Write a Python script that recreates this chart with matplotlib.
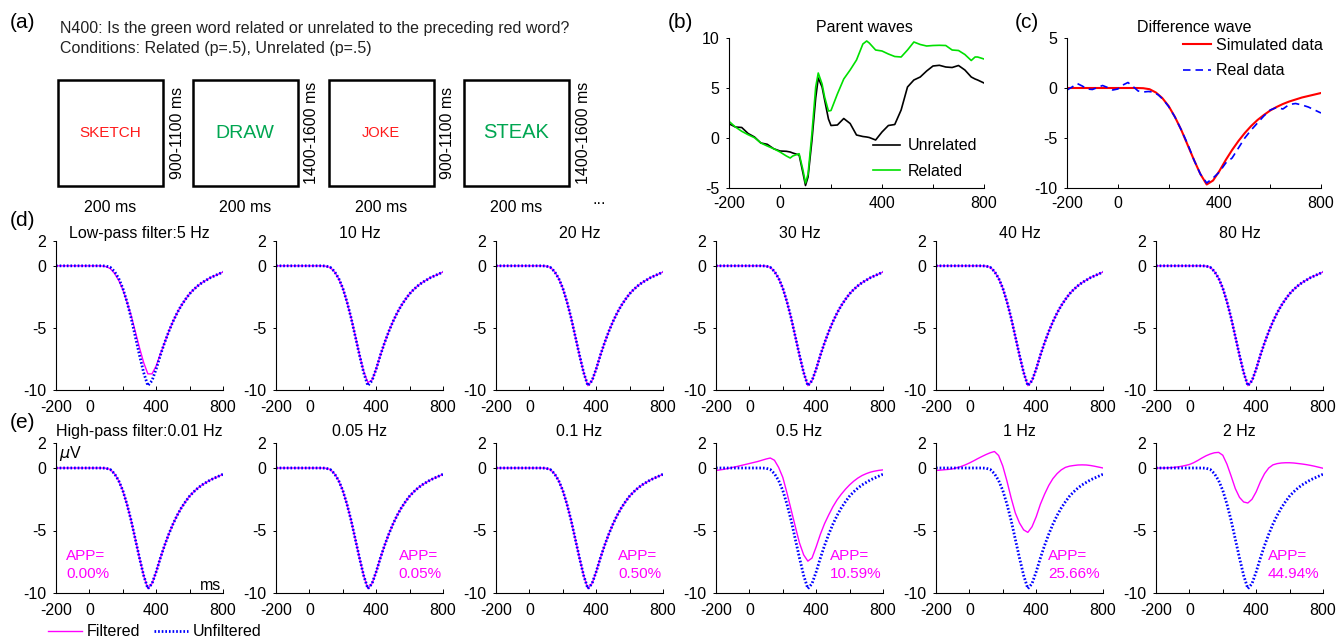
import matplotlib
matplotlib.use("Agg")
import matplotlib.pyplot as plt
from matplotlib.patches import Rectangle

plt.rcParams['font.family'] = ['Liberation Sans', 'DejaVu Sans']
plt.rcParams['axes.unicode_minus'] = False

W, H = 1337, 640

# ---- data ----
t = list(range(-200, 801, 25))

unfiltered = [0, 0, 0, 0, 0, 0, 0, 0, 0, 0, 0, 0,
              -0.02, -0.12, -0.45, -1.0, -1.8, -2.9, -4.2, -5.7, -7.2, -8.6,
              -9.65, -9.25, -8.3, -7.2, -6.2, -5.3, -4.5, -3.8, -3.2, -2.7,
              -2.25, -1.9, -1.6, -1.35, -1.15, -0.95, -0.8, -0.65, -0.5]

lp_5hz = [0, 0, 0, 0, 0, 0, 0, 0, 0, 0, 0, -0.01,
          -0.06, -0.22, -0.6, -1.15, -1.9, -2.9, -4.0, -5.3, -6.6, -7.8,
          -8.7, -8.7, -8.05, -7.1, -6.2, -5.3, -4.5, -3.8, -3.2, -2.7,
          -2.25, -1.9, -1.6, -1.35, -1.15, -0.95, -0.8, -0.65, -0.5]

lp_10hz = [0, 0, 0, 0, 0, 0, 0, 0, 0, 0, 0, 0,
           -0.03, -0.14, -0.47, -1.02, -1.8, -2.9, -4.2, -5.65, -7.15, -8.5,
           -9.4, -9.2, -8.3, -7.2, -6.2, -5.3, -4.5, -3.8, -3.2, -2.7,
           -2.25, -1.9, -1.6, -1.35, -1.15, -0.95, -0.8, -0.65, -0.5]

hp_05hz = [-0.2, -0.15, -0.1, -0.03, 0.05, 0.12, 0.2, 0.28, 0.36, 0.44, 0.52, 0.62,
           0.72, 0.8, 0.62, 0.05, -0.75, -2.0, -3.35, -4.7, -6.0, -6.95,
           -7.45, -7.2, -6.3, -5.3, -4.45, -3.75, -3.1, -2.55, -2.1, -1.7,
           -1.35, -1.05, -0.8, -0.6, -0.45, -0.33, -0.25, -0.19, -0.15]

hp_1hz = [-0.2, -0.17, -0.14, -0.11, -0.07, 0.02, 0.12, 0.25, 0.4, 0.57, 0.75, 0.92,
          1.08, 1.22, 1.32, 1.0, 0.15, -1.05, -2.4, -3.6, -4.4, -4.95,
          -5.15, -4.7, -3.9, -2.9, -2.1, -1.4, -0.85, -0.45, -0.15, 0.05,
          0.15, 0.2, 0.24, 0.25, 0.24, 0.2, 0.14, 0.07, 0.0]

hp_2hz = [0.0, 0.0, 0.0, 0.02, 0.04, 0.08, 0.13, 0.2, 0.28, 0.42, 0.6, 0.8,
          0.98, 1.12, 1.22, 1.25, 1.02, 0.3, -0.65, -1.65, -2.35, -2.72,
          -2.8, -2.5, -1.9, -1.1, -0.45, 0.0, 0.25, 0.35, 0.4, 0.42,
          0.42, 0.4, 0.36, 0.32, 0.27, 0.21, 0.14, 0.06, -0.02]

lowpass_titles = ['Low-pass filter:5 Hz', '10 Hz', '20 Hz', '30 Hz', '40 Hz', '80 Hz']
lowpass_curves = [lp_5hz, lp_10hz, unfiltered, unfiltered, unfiltered, unfiltered]

highpass_titles = ['High-pass filter:0.01 Hz', '0.05 Hz', '0.1 Hz', '0.5 Hz', '1 Hz', '2 Hz']
highpass_curves = [unfiltered, unfiltered, unfiltered, hp_05hz, hp_1hz, hp_2hz]
app_values = ['0.00%', '0.05%', '0.50%', '10.59%', '25.66%', '44.94%']
app_xpos = [-140, 535, 530, 483, 470, 470]

# parent waves (b)
t_parent = [-200, -175, -150, -125, -100, -75, -50, -25, 0, 25, 40, 50, 75, 90, 100,
            110, 125, 140, 150, 165, 175, 190, 200, 225, 250, 275, 300, 325, 340, 350,
            375, 400, 425, 450, 475, 500, 525, 550, 575, 600, 625, 650, 675, 700, 725,
            750, 765, 775, 800]
unrelated = [1.43, 1.1, 1.05, 0.45, 0.1, -0.5, -0.63, -1.07, -1.3, -1.33, -1.4, -1.5, -1.7, -3.5, -4.75,
             -3.9, -0.3, 4.0, 6.0, 5.1, 3.8, 1.9, 1.25, 1.3, 1.95, 1.45, 0.3, 0.15, 0.1, 0.05,
             -0.2, 0.6, 1.25, 1.35, 2.8, 5.1, 5.8, 6.1, 6.7, 7.2, 7.27, 7.1, 7.05, 7.25, 6.8,
             6.1, 5.9, 5.8, 5.5]
related = [1.67, 1.1, 0.67, 0.33, 0.03, -0.5, -0.8, -1.07, -1.4, -1.8, -2.0, -1.8, -1.57, -3.2, -4.5,
           -3.6, 0.4, 5.1, 6.5, 5.4, 4.1, 2.7, 2.75, 4.4, 5.9, 6.8, 7.8, 9.4, 9.7, 9.5,
           8.8, 8.7, 8.4, 8.15, 8.1, 8.8, 9.6, 9.35, 9.2, 9.25, 9.27, 9.25, 8.8, 8.75, 8.35,
           7.75, 8.1, 8.1, 7.9]

# difference wave (c)
t_real = [-200, -180, -160, -140, -120, -100, -80, -60, -40, -20, 0, 20, 40, 60, 80,
          100, 120, 140, 160, 180, 200, 225, 250, 275, 300, 325, 350, 375, 400, 425,
          450, 475, 500, 525, 550, 575, 600, 625, 650, 675, 700, 725, 750, 775, 800]
real_data = [-0.2, 0.1, 0.45, 0.2, -0.1, -0.15, 0.05, 0.25, 0.05, -0.2, -0.1, 0.3, 0.55, 0.15, -0.3,
             -0.4, -0.35, -0.4, -0.7, -1.2, -1.85, -2.9, -4.2, -5.6, -7.2, -8.6, -9.5, -9.0, -8.4, -7.5,
             -7.0, -6.0, -5.0, -4.2, -3.5, -2.8, -2.2, -1.95, -2.1, -1.65, -1.55, -1.7, -1.9, -2.2, -2.5]

MAGENTA = '#ff00ff'
BLUE = '#0000ff'
FS = 11.5

fig = plt.figure(figsize=(W / 100, H / 100), dpi=100)


def add_ax(left, top, right, bottom):
    return fig.add_axes([left / W, 1 - bottom / H, (right - left) / W, (bottom - top) / H])


def style(ax, ylim, yticks, xpad=7):
    ax.set_xlim(-200, 800)
    ax.set_ylim(*ylim)
    for s in ('top', 'right'):
        ax.spines[s].set_visible(False)
    for s in ('left', 'bottom'):
        ax.spines[s].set_linewidth(0.8)
    ax.set_xticks([-200, 0, 200, 400, 600, 800])
    ax.set_xticklabels(['-200', '0', '', '400', '', '800'])
    ax.set_yticks(yticks)
    ax.set_yticklabels([str(v) for v in yticks])
    ax.tick_params(axis='x', direction='in', length=3, width=0.7, pad=xpad, labelsize=FS)
    ax.tick_params(axis='y', direction='out', length=2, width=0.7, pad=5, labelsize=FS)
    ax.patch.set_alpha(0)


# ---- overlay for panel (a) and panel letters ----
ov = fig.add_axes([0, 0, 1, 1])
ov.set_xlim(0, W)
ov.set_ylim(H, 0)
ov.axis('off')

for lab, x, y in [('(a)', 10, 22), ('(b)', 668, 22), ('(c)', 1015, 22),
                  ('(d)', 10, 221), ('(e)', 10, 423)]:
    ov.text(x, y, lab, fontsize=15, va='center', ha='left')

ov.text(60, 28, 'N400: Is the green word related or unrelated to the preceding red word?',
        fontsize=FS, va='center', color='#222222')
ov.text(60, 48, 'Conditions: Related (p=.5), Unrelated (p=.5)',
        fontsize=FS, va='center', color='#222222')

box_lefts = [58, 193, 329, 464]
box_words = ['SKETCH', 'DRAW', 'JOKE', 'STEAK']
word_colors = ['#ff1a1a', '#00a651', '#ff1a1a', '#00a651']
word_sizes = [11, 14, 10.5, 14.5]
isi_labels = ['900-1100 ms', '1400-1600 ms', '900-1100 ms', '1400-1600 ms']
for i, bx in enumerate(box_lefts):
    ov.add_patch(Rectangle((bx, 80), 105, 106, fill=False, lw=1.8, ec='black'))
    ov.text(bx + 52, 133, box_words[i], color=word_colors[i], fontsize=word_sizes[i],
            ha='center', va='center')
    ov.text(bx + 119, 133, isi_labels[i], rotation=90, fontsize=FS, ha='center', va='center')
    ov.text(bx + 52, 208, '200 ms', fontsize=FS, ha='center', va='center')
ov.text(592, 200, '...', fontsize=FS, ha='left', va='center')

# ---- panel (b) ----
axb = add_ax(729, 38, 984, 188)
axb.plot(t_parent, unrelated, color='black', lw=1.2, label='Unrelated')
axb.plot(t_parent, related, color='#00e000', lw=1.2, label='Related')
style(axb, (-5, 10), [-5, 0, 5, 10], xpad=6)
axb.set_title('Parent waves', fontsize=FS, pad=4, x=0.53)
axb.legend(loc='upper left', bbox_to_anchor=(0.565, 0.33), frameon=False, fontsize=FS,
           handlelength=1.7, handletextpad=0.5, labelspacing=0.65, borderpad=0, borderaxespad=0)

# ---- panel (c) ----
axc = add_ax(1067, 38, 1321, 188)
axc.plot(t, unfiltered, color='#ff0000', lw=1.5, label='Simulated data')
axc.plot(t_real, real_data, color=BLUE, lw=1.2, dashes=(4.5, 3), label='Real data')
style(axc, (-10, 5), [-10, -5, 0, 5], xpad=6)
axc.set_title('Difference wave', fontsize=FS, pad=4)
axc.legend(loc='upper left', bbox_to_anchor=(0.455, 1.0), frameon=False, fontsize=FS,
           handlelength=1.8, handletextpad=0.3, labelspacing=0.65, borderpad=0, borderaxespad=0)

# ---- rows (d) and (e) ----
handles = None
for i in range(6):
    left = 56 + 220 * i
    axd = add_ax(left, 241, left + 167, 390)
    axd.plot(t, lowpass_curves[i], color=MAGENTA, lw=1.0)
    axd.plot(t, unfiltered, color=BLUE, lw=2.0, dashes=(0.6, 0.7))
    style(axd, (-10, 2), [-10, -5, 0, 2])
    axd.set_title(lowpass_titles[i], fontsize=FS, pad=2)

    axe = add_ax(left, 443, left + 167, 593)
    l1, = axe.plot(t, highpass_curves[i], color=MAGENTA, lw=1.0, label='Filtered')
    l2, = axe.plot(t, unfiltered, color=BLUE, lw=2.0, dashes=(0.6, 0.7), label='Unfiltered')
    style(axe, (-10, 2), [-10, -5, 0, 2])
    axe.set_title(highpass_titles[i], fontsize=FS, pad=5)
    axe.text(app_xpos[i], -7.0, 'APP=', color=MAGENTA, fontsize=11, va='center')
    axe.text(app_xpos[i], -8.45, app_values[i], color=MAGENTA, fontsize=11, va='center')
    if i == 0:
        handles = [l1, l2]
        axe.text(-185, 1.9, r'$\mu$V', fontsize=FS, va='top', ha='left')
        axe.text(790, -9.75, 'ms', fontsize=FS, va='baseline', ha='right')

fig.legend(handles=handles, labels=['Filtered', 'Unfiltered'], loc='center left',
           bbox_to_anchor=(48 / W, 8 / H), ncol=2, frameon=False, fontsize=FS,
           handlelength=2.1, handletextpad=0.3, columnspacing=0.9, borderpad=0,
           borderaxespad=0)

fig.savefig('out.png', dpi=100)
